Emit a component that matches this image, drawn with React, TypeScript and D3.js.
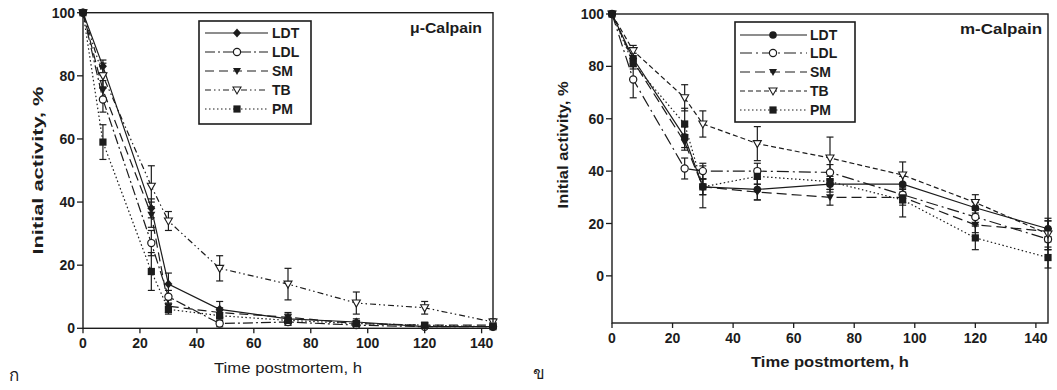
import React from "react";
import * as d3 from "d3";

const times = [0, 7, 24, 30, 48, 72, 96, 120, 144];
const seriesNames = ["LDT", "LDL", "SM", "TB", "PM"];
const xTicks = [0, 20, 40, 60, 80, 100, 120, 140];
const yTicks = [0, 20, 40, 60, 80, 100];

// μ-Calpain
const muLDT = [100, 83, 38, 14, 6, 3, 2, 0.5, 0.5];
const muLDL = [100, 72.5, 27, 10, 1.5, 2, 1, 0.5, 0.5];
const muSM = [100, 75.5, 36, 7, 5, 3.5, 1.5, 1, 1];
const muTB = [100, 80, 45, 34, 19, 14, 8, 6.5, 2];
const muPM = [100, 59, 18, 6, 4, 2.5, 1.5, 1, 0.5];
const muLDTErr = [0, 2, 3, 3.5, 2.5, 2, 1, 0.5, 0.5];
const muLDLErr = [0, 4, 4, 2, 1, 1, 0.5, 0.5, 0.5];
const muSMErr = [0, 3, 4, 2, 1.5, 1, 0.5, 0.5, 0.5];
const muTBErr = [0, 4, 6.5, 3, 4, 5, 3.5, 2, 1];
const muPMErr = [0, 5.5, 6, 1.5, 1, 1, 0.5, 0.5, 0.5];

// m-Calpain
const mLDT = [100, 83, 53, 34, 33, 35, 35, 26, 18];
const mLDL = [100, 75, 41, 40, 40, 39.5, 31, 22.5, 14];
const mSM = [100, 82, 51, 34, 32, 30, 30, 19.5, 17];
const mTB = [100, 86, 68, 58, 50.5, 45, 38.5, 28, 16];
const mPM = [100, 81, 58, 34, 38, 36, 29, 14.5, 7];
const mLDTErr = [0, 2, 4, 3, 4, 3, 3, 2, 3];
const mLDLErr = [0, 7, 4, 3, 3, 3, 3, 3, 4];
const mSMErr = [0, 2, 3, 8, 3, 3, 3, 3, 4];
const mTBErr = [0, 2, 5, 5, 6.5, 8, 5, 3, 6];
const mPMErr = [0, 2, 6, 3, 3, 3, 6.5, 4.5, 4];

const INK = "#1c1c1c";
const FONT = "'Liberation Sans', Arial, sans-serif";

type Shape = "diamond" | "circle" | "circleOpen" | "triDown" | "triDownOpen" | "square";

function Marker({ x, y, shape }: { x: number; y: number; shape: Shape }) {
  const s = 4;
  switch (shape) {
    case "diamond":
      return <path d={`M${x},${y - s - 0.5}L${x + s},${y}L${x},${y + s + 0.5}L${x - s},${y}Z`} fill={INK} />;
    case "circle":
      return <circle cx={x} cy={y} r={3.8} fill={INK} />;
    case "circleOpen":
      return <circle cx={x} cy={y} r={3.6} fill="#fff" stroke={INK} strokeWidth={1.2} />;
    case "triDown":
      return <path d={`M${x - s},${y - s + 1}L${x + s},${y - s + 1}L${x},${y + s}Z`} fill={INK} />;
    case "triDownOpen":
      return <path d={`M${x - s},${y - s + 1}L${x + s},${y - s + 1}L${x},${y + s}Z`} fill="#fff" stroke={INK} strokeWidth={1.1} />;
    case "square":
      return <rect x={x - 3.6} y={y - 3.6} width={7.2} height={7.2} fill={INK} />;
  }
  return null;
}

interface PanelSpec {
  x0: number; x1: number; yTop: number; yBottom: number;
  yMin: number;
  values: number[][];
  errs: number[][];
  shapes: Shape[];
  dashes: string[];
  legend: { x0: number; x1: number; y0: number; y1: number; rows: number[]; lx0: number; lx1: number; mx: number; tx: number };
  name: string; nameX: number; nameY: number; nameLen: number;
  yTitleX: number; yTitleLen: number; yTitleSize: number;
  xTitleY: number; xTitleLen: number; xTitleSize: number; xTitleWeight: string;
  corner: string; cornerX: number; cornerY: number;
}

function Panel({ p }: { p: PanelSpec }) {
  const x = d3.scaleLinear().domain([0, 144]).range([p.x0, p.x1]);
  const y = d3.scaleLinear().domain([p.yMin, 100]).range([p.yBottom, p.yTop]);
  const line = d3.line<number>().x((_, i) => x(times[i])).y((v) => y(v));
  return (
    <g fontFamily={FONT} fill={INK}>
      {p.values.map((vals, si) => (
        <path key={"l" + si} d={line(vals) || ""} fill="none" stroke={INK} strokeWidth={1.2} strokeDasharray={p.dashes[si]} />
      ))}
      {p.values.map((vals, si) =>
        vals.map((v, i) => {
          const e = p.errs[si][i];
          if (!e) return null;
          const cx = x(times[i]);
          const yh = y(Math.min(v + e, 100));
          const yl = y(Math.max(v - e, p.yMin));
          return (
            <g key={"e" + si + "-" + i} stroke={INK} strokeWidth={1.2}>
              <line x1={cx} x2={cx} y1={yh} y2={yl} />
              <line x1={cx - 3.5} x2={cx + 3.5} y1={yh} y2={yh} />
              <line x1={cx - 3.5} x2={cx + 3.5} y1={yl} y2={yl} />
            </g>
          );
        })
      )}
      {p.values.map((vals, si) =>
        vals.map((v, i) => <Marker key={"m" + si + "-" + i} x={x(times[i])} y={y(v)} shape={p.shapes[si]} />)
      )}
      <rect x={p.x0} y={p.yTop} width={p.x1 - p.x0} height={p.yBottom - p.yTop} fill="none" stroke={INK} strokeWidth={1.4} />
      {yTicks.map((t) => (
        <g key={"yt" + t}>
          <line x1={p.x0 - 6} x2={p.x0} y1={y(t)} y2={y(t)} stroke={INK} strokeWidth={1.3} />
          <text x={p.x0 - 8} y={y(t)} dy="0.36em" textAnchor="end" fontSize={14} fontWeight="bold">{t}</text>
        </g>
      ))}
      {xTicks.map((t) => (
        <g key={"xt" + t}>
          <line x1={x(t)} x2={x(t)} y1={p.yBottom} y2={p.yBottom + 5} stroke={INK} strokeWidth={1.3} />
          <text x={x(t)} y={p.yBottom + 20} textAnchor="middle" fontSize={14} fontWeight="bold">{t}</text>
        </g>
      ))}
      <text x={(p.x0 + p.x1) / 2} y={p.xTitleY} textAnchor="middle" fontSize={p.xTitleSize} fontWeight={p.xTitleWeight}
        textLength={p.xTitleLen} lengthAdjust="spacingAndGlyphs">Time postmortem, h</text>
      <text transform={`translate(${p.yTitleX},${(p.yTop + y(0)) / 2}) rotate(-90)`} textAnchor="middle" fontSize={p.yTitleSize}
        fontWeight="bold" textLength={p.yTitleLen} lengthAdjust="spacingAndGlyphs">Initial activity, %</text>
      <text x={p.nameX} y={p.nameY} fontSize={14} fontWeight="bold" textLength={p.nameLen} lengthAdjust="spacingAndGlyphs">{p.name}</text>
      <rect x={p.legend.x0} y={p.legend.y0} width={p.legend.x1 - p.legend.x0} height={p.legend.y1 - p.legend.y0}
        fill="#fff" stroke={INK} strokeWidth={1.6} />
      {seriesNames.map((n, si) => (
        <g key={"lg" + n}>
          <line x1={p.legend.lx0} x2={p.legend.lx1} y1={p.legend.rows[si]} y2={p.legend.rows[si]} stroke={INK} strokeWidth={1.2}
            strokeDasharray={p.dashes[si]} />
          <Marker x={p.legend.mx} y={p.legend.rows[si]} shape={p.shapes[si]} />
          <text x={p.legend.tx} y={p.legend.rows[si]} dy="0.36em" fontSize={14} fontWeight="bold">{n}</text>
        </g>
      ))}
      <text x={p.cornerX} y={p.cornerY} fontSize={17} fontFamily="'Noto Sans', 'DejaVu Sans', sans-serif">{p.corner}</text>
    </g>
  );
}

const left: PanelSpec = {
  x0: 83, x1: 493, yTop: 12.7, yBottom: 328.3, yMin: 0,
  values: [muLDT, muLDL, muSM, muTB, muPM],
  errs: [muLDTErr, muLDLErr, muSMErr, muTBErr, muPMErr],
  shapes: ["diamond", "circleOpen", "triDown", "triDownOpen", "square"],
  dashes: ["none", "10,3,2,3", "9,5", "6,3,1.5,3,1.5,3", "1.5,2.5"],
  legend: { x0: 199, x1: 311, y0: 21, y1: 124, rows: [33, 52, 71, 90, 109], lx0: 205, lx1: 268, mx: 237, tx: 272 },
  name: "μ-Calpain", nameX: 410, nameY: 33, nameLen: 72,
  yTitleX: 43, yTitleLen: 168, yTitleSize: 15,
  xTitleY: 373, xTitleLen: 148, xTitleSize: 15, xTitleWeight: "normal",
  corner: "ก", cornerX: 9, cornerY: 381,
};

const right: PanelSpec = {
  x0: 612, x1: 1048, yTop: 14, yBottom: 323, yMin: -18,
  values: [mLDT, mLDL, mSM, mTB, mPM],
  errs: [mLDTErr, mLDLErr, mSMErr, mTBErr, mPMErr],
  shapes: ["circle", "circleOpen", "triDown", "triDownOpen", "square"],
  dashes: ["none", "12,4,2,4", "10,5", "5,3", "1.5,2.5"],
  legend: { x0: 735, x1: 855, y0: 22, y1: 122, rows: [35, 53, 72, 91, 110], lx0: 740, lx1: 807, mx: 773, tx: 810 },
  name: "m-Calpain", nameX: 960, nameY: 34, nameLen: 82,
  yTitleX: 568, yTitleLen: 127, yTitleSize: 14,
  xTitleY: 367, xTitleLen: 158, xTitleSize: 15, xTitleWeight: "bold",
  corner: "ข", cornerX: 533, cornerY: 379,
};

export default function App() {
  return (
    <svg width={1057} height={390} style={{ position: "fixed", left: 0, top: 0, background: "#fff" }}>
      <rect width={1057} height={390} fill="#fff" />
      <Panel p={left} />
      <Panel p={right} />
    </svg>
  );
}
